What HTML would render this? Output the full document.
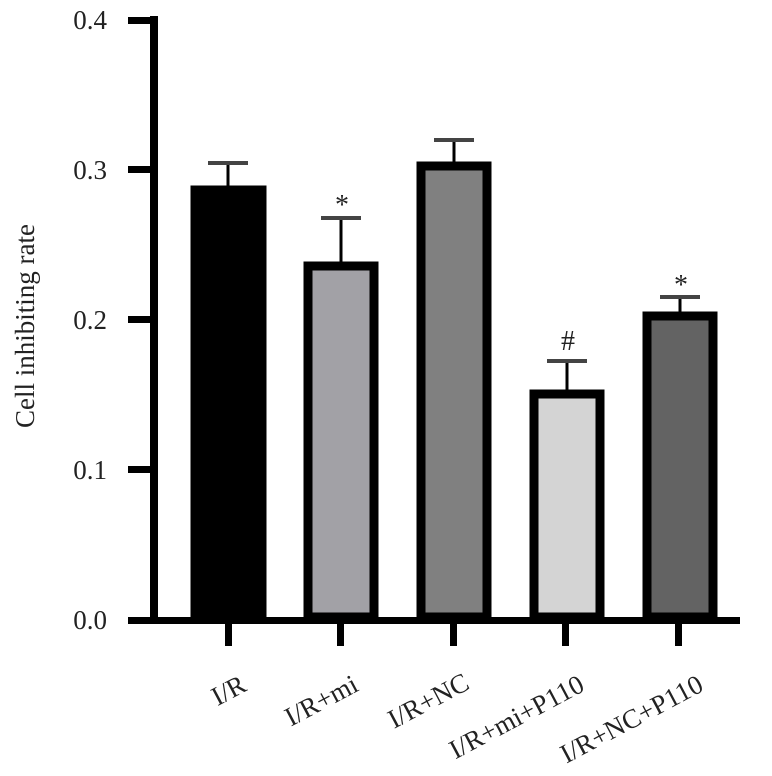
<!DOCTYPE html>
<html><head><style>body{margin:0;background:#fff}svg{display:block}</style></head>
<body>
<svg width="772" height="776" viewBox="0 0 772 776" xmlns="http://www.w3.org/2000/svg" font-family="Liberation Serif, serif">
<!-- axes -->
<rect x="150" y="16" width="8" height="608" fill="#000"/>
<rect x="128" y="617" width="612" height="7" fill="#000"/>
<g fill="#000">
<rect x="128" y="17" width="24" height="7"/>
<rect x="128" y="166" width="24" height="7"/>
<rect x="128" y="316" width="24" height="7"/>
<rect x="128" y="466" width="24" height="7"/>
<rect x="225" y="620" width="7" height="26"/>
<rect x="337" y="620" width="7" height="26"/>
<rect x="450" y="620" width="7" height="26"/>
<rect x="562" y="620" width="7" height="26"/>
<rect x="675" y="620" width="7" height="26"/>
</g>
<g font-size="27" text-anchor="end" fill="#222">
<text x="107" y="29">0.4</text>
<text x="107" y="179">0.3</text>
<text x="107" y="329">0.2</text>
<text x="107" y="479">0.1</text>
<text x="107" y="629">0.0</text>
</g>
<text transform="translate(34,326) rotate(-90)" font-size="27" text-anchor="middle" fill="#222">Cell inhibiting rate</text>
<!-- error bars -->
<g stroke="#000" stroke-width="3">
<line x1="228" y1="164" x2="228" y2="190"/>
<line x1="341" y1="219" x2="341" y2="265"/>
<line x1="454" y1="140" x2="454" y2="165"/>
<line x1="567" y1="361" x2="567" y2="393"/>
<line x1="680" y1="298" x2="680" y2="315"/>
</g>
<g stroke="#444" stroke-width="4">
<line x1="208" y1="163" x2="248" y2="163"/>
<line x1="321" y1="218" x2="361" y2="218"/>
<line x1="434" y1="140" x2="474" y2="140"/>
<line x1="547" y1="361" x2="587" y2="361"/>
<line x1="660" y1="297" x2="700" y2="297"/>
</g>
<!-- bars -->
<rect x="195" y="190" width="67" height="427" fill="#000" stroke="#000" stroke-width="9"/>
<rect x="308" y="266" width="66" height="351" fill="#a2a1a6" stroke="#000" stroke-width="9"/>
<rect x="421" y="166" width="66" height="451" fill="#808080" stroke="#000" stroke-width="9"/>
<rect x="534" y="394" width="66" height="223" fill="#d4d4d4" stroke="#000" stroke-width="9"/>
<rect x="647" y="316" width="66" height="301" fill="#636363" stroke="#000" stroke-width="9"/>
<!-- annotations -->
<g font-size="28" text-anchor="middle" fill="#222">
<text x="342" y="214">*</text>
<text x="568" y="350">#</text>
<text x="681" y="294">*</text>
</g>
<!-- x labels -->
<g font-size="27" text-anchor="end" fill="#222">
<text transform="translate(248,690) rotate(-28)">I/R</text>
<text transform="translate(360,690) rotate(-28)">I/R+mi</text>
<text transform="translate(471,688) rotate(-28)">I/R+NC</text>
<text transform="translate(586,690) rotate(-28)">I/R+mi+P110</text>
<text transform="translate(705,690) rotate(-28)">I/R+NC+P110</text>
</g>
</svg>
</body></html>
